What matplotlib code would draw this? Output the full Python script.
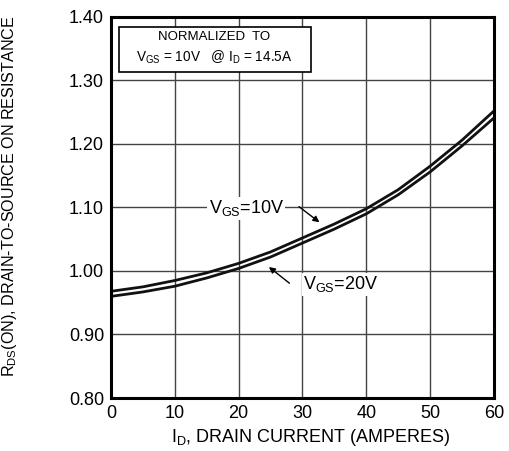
import numpy as np
import matplotlib.pyplot as plt
from matplotlib.patches import Rectangle

plt.rcParams['font.family'] = ['Liberation Sans', 'DejaVu Sans']

# drain current (A)
i_d = [0, 5, 10, 15, 20, 25, 30, 35, 40, 45, 50, 55, 60]
# normalized RDS(on)
r_10v = [0.968, 0.975, 0.985, 0.997, 1.012, 1.030, 1.052, 1.074, 1.098, 1.128, 1.165, 1.206, 1.252]
r_20v = [0.960, 0.967, 0.976, 0.989, 1.004, 1.022, 1.044, 1.066, 1.090, 1.120, 1.156, 1.197, 1.241]

xticks = [0, 10, 20, 30, 40, 50, 60]
yticks = [0.80, 0.90, 1.00, 1.10, 1.20, 1.30, 1.40]

fig = plt.figure(figsize=(5.10, 4.51), dpi=100)
ax = fig.add_axes([0.2176, 0.1175, 0.751, 0.845])

ax.set_xlim(0, 60)
ax.set_ylim(0.80, 1.40)
ax.set_xticks(xticks)
ax.set_yticks(yticks)
ax.set_xticklabels([str(t) for t in xticks], fontsize=13)
ax.set_yticklabels(['%.2f' % t for t in yticks], fontsize=13)
ax.tick_params(length=0, pad=5)
ax.grid(True, color='#444444', lw=1.0)
ax.set_axisbelow(True)
for s in ax.spines.values():
    s.set_linewidth(2.2)
    s.set_color('black')

ax.plot(i_d, r_10v, color='#111111', lw=2.0, solid_capstyle='butt')
ax.plot(i_d, r_20v, color='#111111', lw=2.0, solid_capstyle='butt')

# normalization box
ax.add_patch(Rectangle((1.25, 1.313), 30.05, 0.071, fc='white', ec='black', lw=1.2, zorder=3))
ax.text(16.1, 1.369, 'NORMALIZED  TO', ha='center', va='center', fontsize=9.5, zorder=4)
ax.text(16.1, 1.336, '$\\mathregular{V_{GS}}$ = 10V   @ $\\mathregular{I_D}$ = 14.5A',
        ha='center', va='center', fontsize=9.8, zorder=4)

# curve labels
ax.text(15.3, 1.099, '$\\mathregular{V_{GS}}$=10V', fontsize=13, va='center', ha='left',
        bbox=dict(fc='white', ec='none', pad=1))
ax.annotate('', xy=(33.0, 1.074), xytext=(29.1, 1.104),
            arrowprops=dict(arrowstyle='-|>', color='black', lw=1.0, mutation_scale=9))
ax.text(30.1, 0.979, '$\\mathregular{V_{GS}}$=20V', fontsize=13, va='center', ha='left',
        bbox=dict(fc='white', ec='none', pad=1))
ax.annotate('', xy=(24.4, 1.009), xytext=(28.3, 0.978),
            arrowprops=dict(arrowstyle='-|>', color='black', lw=1.0, mutation_scale=9))

ax.set_xlabel('$\\mathregular{I_D}$, DRAIN CURRENT (AMPERES)', fontsize=13)
ax.xaxis.set_label_coords(0.523, -0.075)
ax.set_ylabel('$\\mathregular{R_{DS}}$(ON), DRAIN-TO-SOURCE ON RESISTANCE', fontsize=11.6)
ax.yaxis.set_label_coords(-0.24, 0.53)

fig.savefig('out.png', dpi=100)
